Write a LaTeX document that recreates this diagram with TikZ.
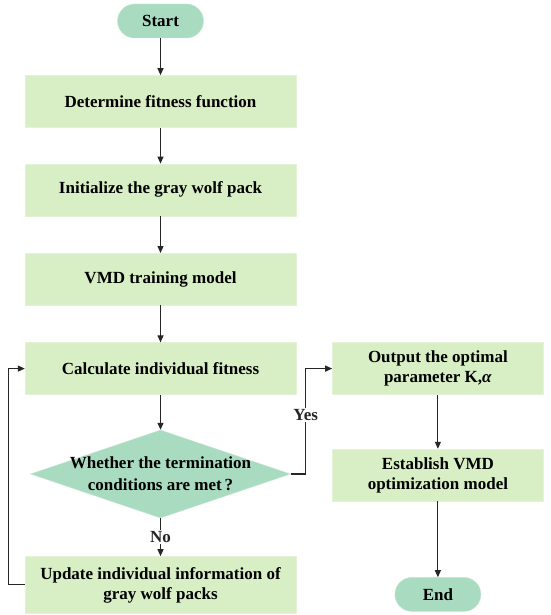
\documentclass[tikz,border=0pt]{standalone}
\usepackage{fontspec}
\setmainfont{Liberation Serif}
\definecolor{stepfill}{HTML}{D8EEC4}
\definecolor{termfill}{HTML}{A9DBC0}
\usetikzlibrary{arrows.meta,positioning,shapes.geometric}

\begin{document}
\begin{tikzpicture}[x=1pt, y=1pt,
            box/.style={fill=stepfill, draw=stepfill!70!white, minimum width=271pt,
                        minimum height=52pt, inner sep=4pt, align=center,
                        font=\fontsize{17}{20}\selectfont\bfseries},
            term/.style={fill=termfill, draw=termfill!70!white, rounded corners=17pt,
                        minimum width=86pt, minimum height=34pt,
                        font=\fontsize{17}{20}\selectfont\bfseries},
            cond/.style={diamond, fill=termfill, draw=termfill!70!white, inner sep=0pt,
                        minimum width=260pt, minimum height=88pt},
            lbl/.style={fill=white, inner sep=1.5pt, font=\fontsize{17}{20}\selectfont\bfseries},
            arr/.style={-{Triangle[length=7pt,width=6pt]}, line width=1.1pt, black!85}
          ]
            \useasboundingbox (0,0) rectangle (550,-615);
            \node[term] (start) at (160.5,-21) {Start};
            \node[box] (fit)   [below=37pt of start] {Determine fitness function};
            \node[box] (init)  [below=36pt of fit]   {Initialize the gray wolf pack};
            \node[box] (vmd)   [below=37pt of init]  {VMD training model};
            \node[box] (calc)  [below=37pt of vmd]   {Calculate individual fitness};
            \node[cond] (check) [below=35pt of calc,
                  label={[align=center, font=\fontsize{17}{22}\selectfont\bfseries]center:Whether the termination\\conditions are met\,?}] {};
            \node[box, minimum height=57pt] (upd) [below=38pt of check] {Update individual information of\\gray wolf packs};
            \node[box, minimum width=211pt] (out) [right=36pt of calc] {Output the optimal\\parameter K,\textit{α}};
            \node[box, minimum width=211pt] (model) [below=54pt of out] {Establish VMD\\optimization model};
            \node[term] (end) [below=76pt of model] {End};
            \draw[arr] (start) -- (fit);
            \draw[arr] (fit)   -- (init);
            \draw[arr] (init)  -- (vmd);
            \draw[arr] (vmd)   -- (calc);
            \draw[arr] (calc)  -- (check);
            \draw[arr] (check) -- node[lbl] {No} (upd);
            \draw[arr] (check.east) -- ++(15,0) |- node[lbl, pos=0.28] {Yes} (out.west);
            \draw[arr] (upd.west) -- ++(-16,0) |- (calc.west);
            \draw[arr] (out)   -- (model);
            \draw[arr] (model) -- (end);
          \end{tikzpicture}
\end{document}
